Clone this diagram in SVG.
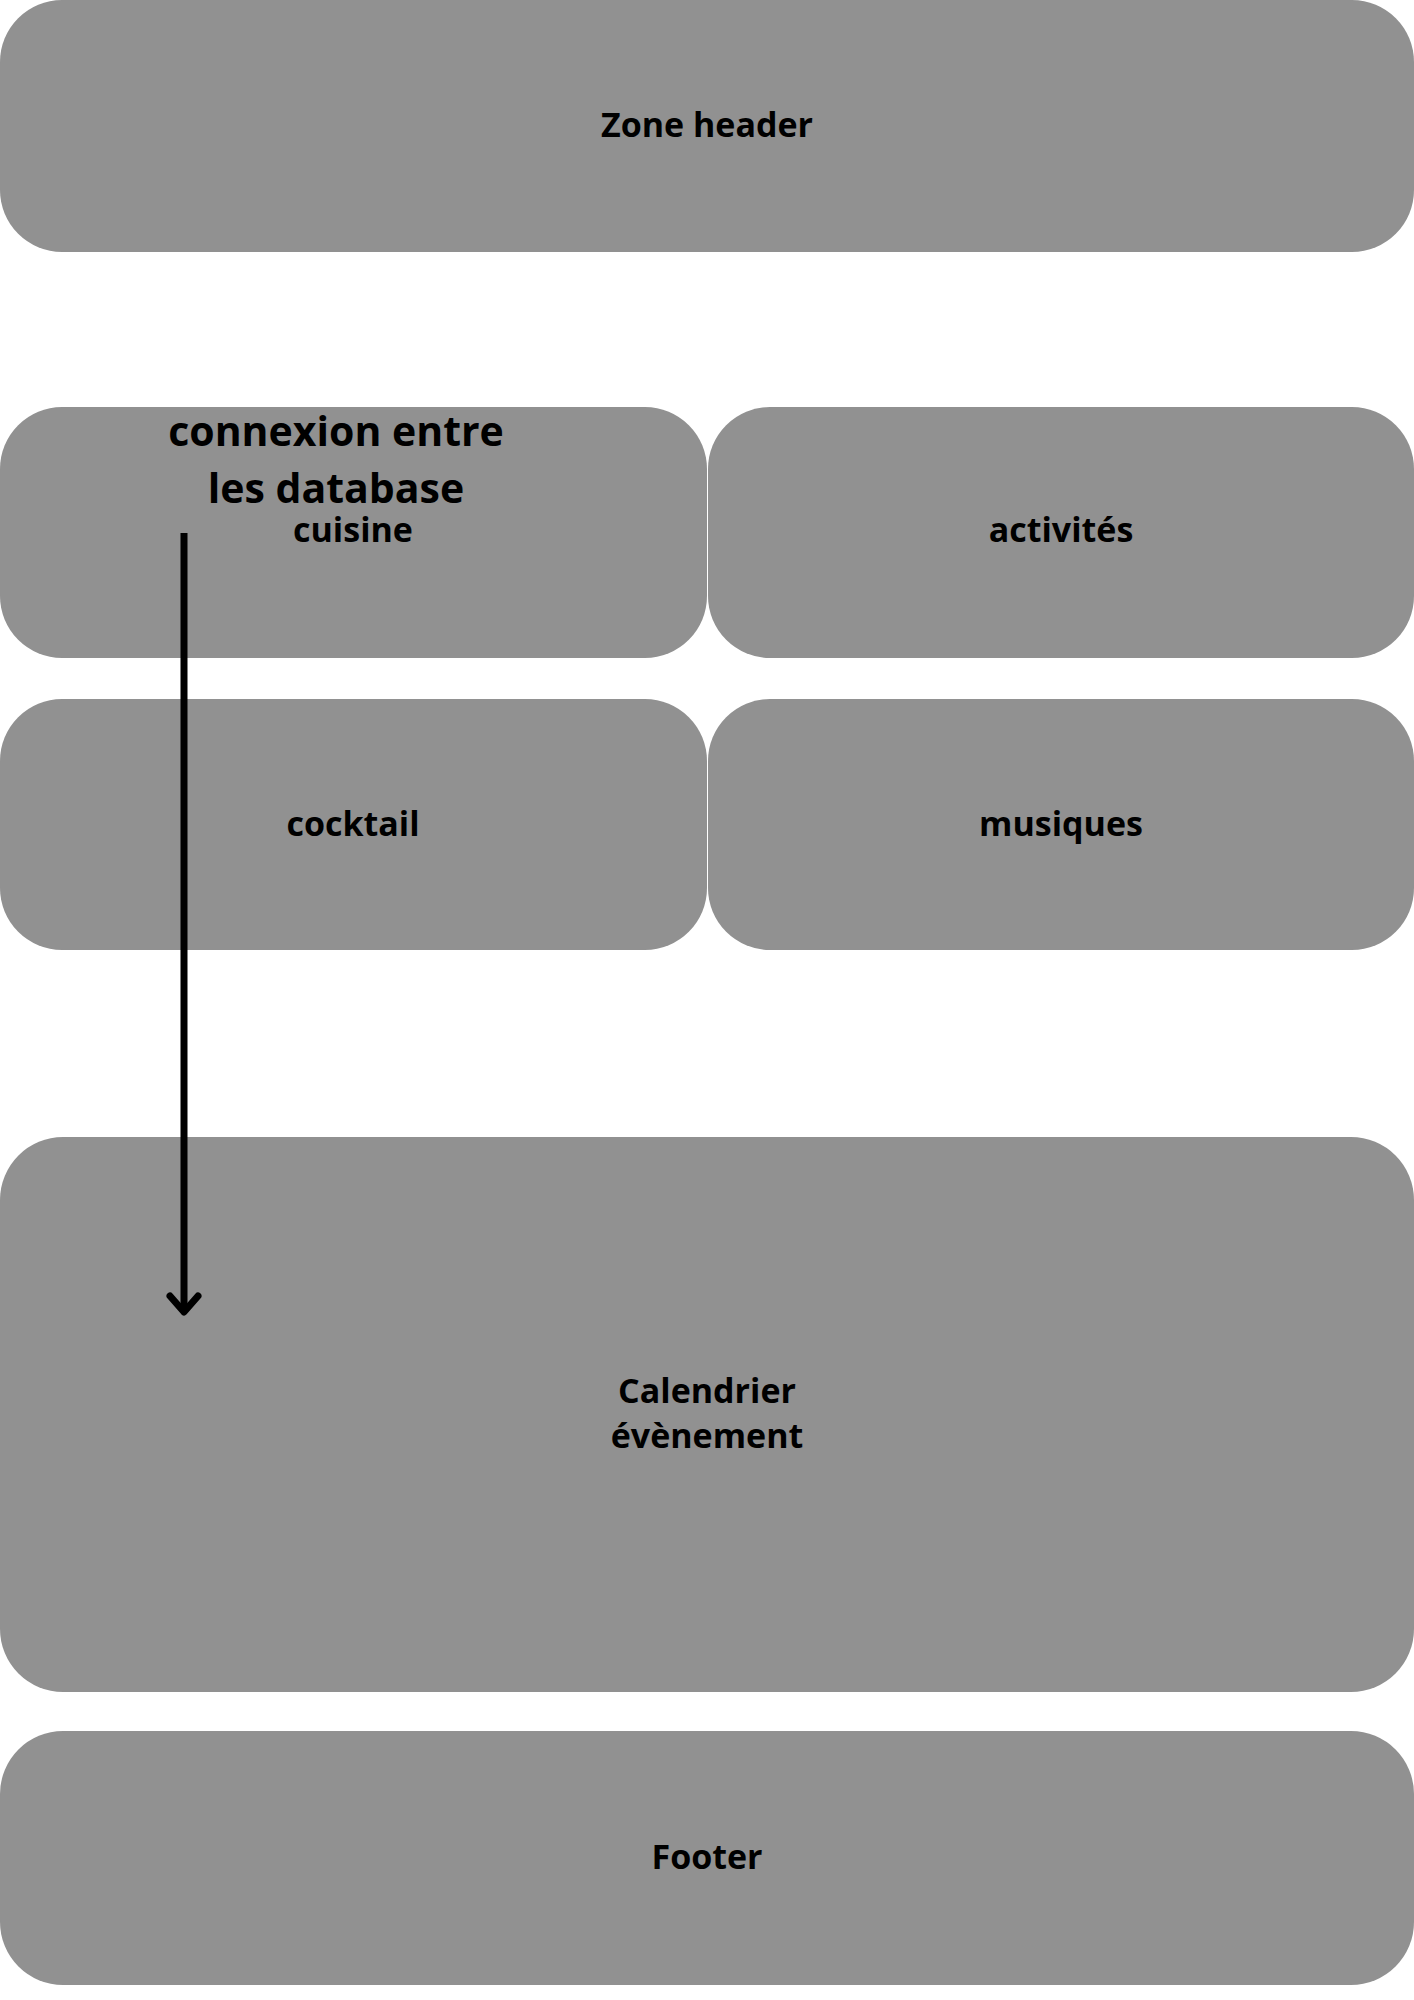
<svg xmlns="http://www.w3.org/2000/svg" width="1414" height="2000" viewBox="0 0 1414 2000">
<style>
.box{fill:#919191;}
.lbl{font-family:"Open Sans","DejaVu Sans",sans-serif;font-weight:700;font-size:34px;fill:#000;text-anchor:middle;}
.note{font-family:"Open Sans","DejaVu Sans",sans-serif;font-weight:700;font-size:41px;fill:#000;text-anchor:middle;}
.conn{stroke:#000;stroke-width:7;fill:none;stroke-linecap:butt;}
</style>
<defs>
<marker id="arrow" markerUnits="userSpaceOnUse" markerWidth="40" markerHeight="40" refX="20" refY="20" orient="auto" viewBox="0 0 40 40">
<polyline points="4,6 20,20 4,34" fill="none" stroke="#000" stroke-width="7" stroke-linecap="round" stroke-linejoin="round"/>
</marker>
</defs>
<rect width="1414" height="2000" fill="#ffffff"/>
<g id="header">
<rect class="box" x="0" y="0" width="1414" height="252" rx="62" ry="62"/>
<text class="lbl" x="707" y="137">Zone header</text>
</g>
<g id="cuisine">
<rect class="box" x="0" y="407" width="707" height="251" rx="62" ry="62"/>
<text class="lbl" x="353" y="542">cuisine</text>
</g>
<g id="activites">
<rect class="box" x="708" y="407" width="706" height="251" rx="62" ry="62"/>
<text class="lbl" x="1061" y="542">activités</text>
</g>
<g id="cocktail">
<rect class="box" x="0" y="699" width="707" height="251" rx="62" ry="62"/>
<text class="lbl" x="353" y="836">cocktail</text>
</g>
<g id="musiques">
<rect class="box" x="708" y="699" width="706" height="251" rx="62" ry="62"/>
<text class="lbl" x="1061" y="836">musiques</text>
</g>
<g id="calendrier">
<rect class="box" x="0" y="1137" width="1414" height="555" rx="63" ry="63"/>
<text class="lbl" x="707" y="1403">Calendrier</text>
<text class="lbl" x="707" y="1448">évènement</text>
</g>
<g id="footer">
<rect class="box" x="0" y="1731" width="1414" height="254" rx="63" ry="63"/>
<text class="lbl" x="707" y="1869">Footer</text>
</g>
<g id="connectors">
<line class="conn" x1="184" y1="533" x2="184" y2="1312" marker-end="url(#arrow)"/>
<text class="note" x="336" y="446">connexion entre</text>
<text class="note" x="336" y="503">les database</text>
</g>
</svg>
